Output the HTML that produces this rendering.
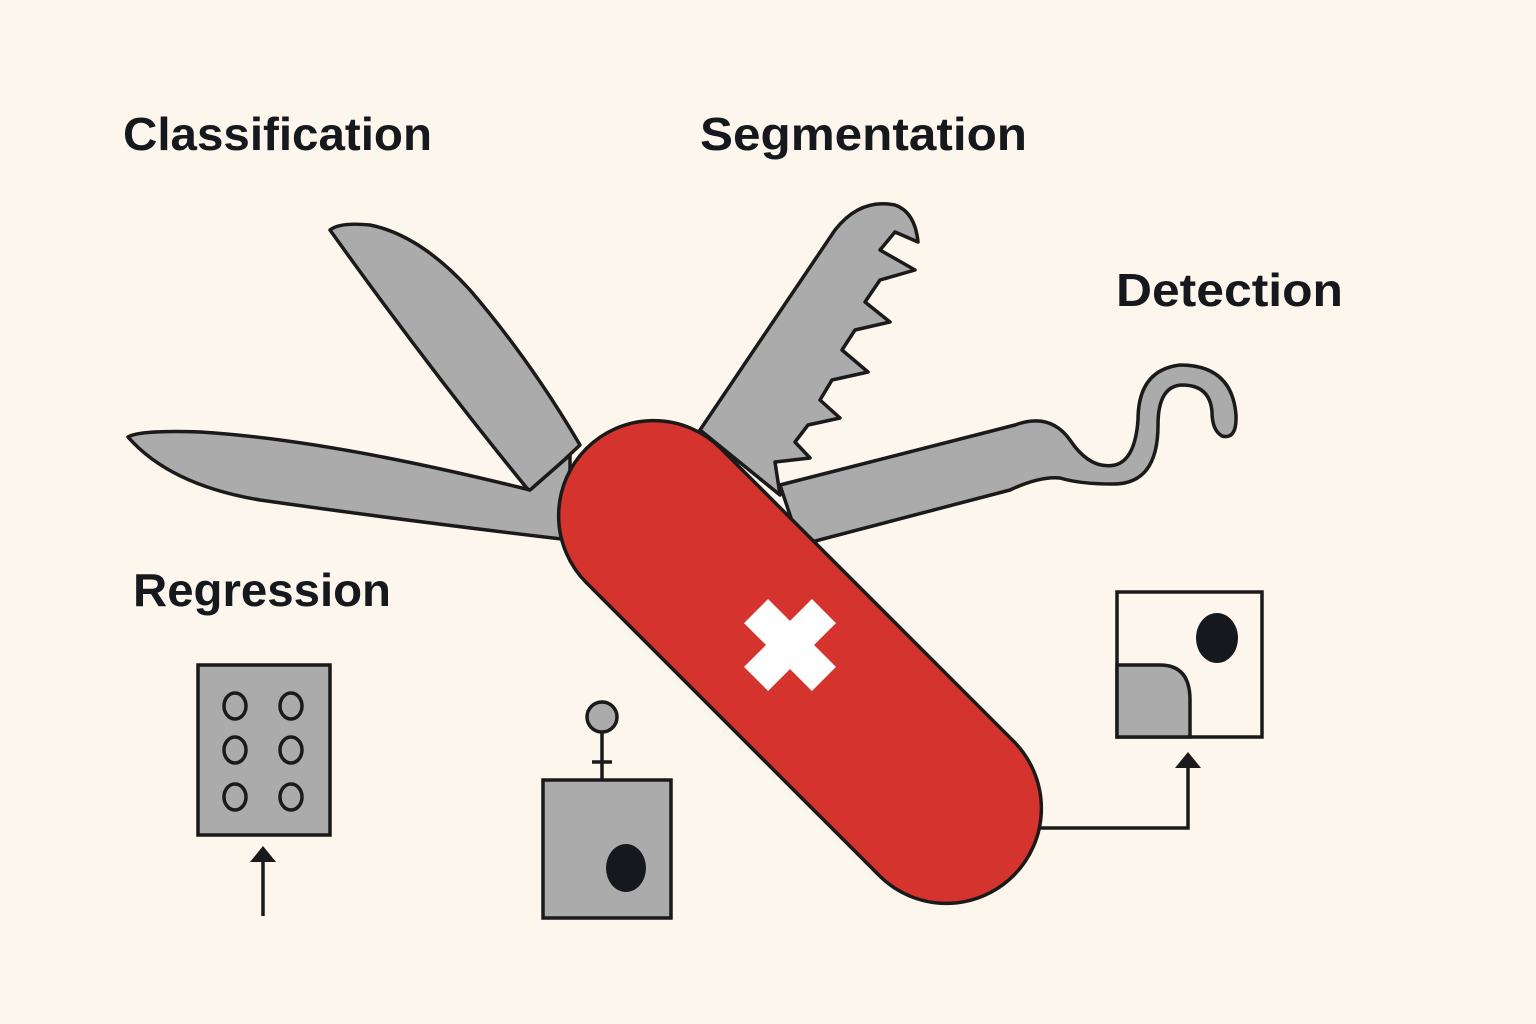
<!DOCTYPE html>
<html><head><meta charset="utf-8"><style>
html,body{margin:0;padding:0;background:#fdf6ec;}
svg{display:block}
text{font-family:"Liberation Sans",sans-serif;font-weight:bold;font-size:46px;fill:#15181c}
</style></head><body>
<svg width="1536" height="1024" viewBox="0 0 1536 1024" xmlns="http://www.w3.org/2000/svg">
<rect width="1536" height="1024" fill="#fdf6ec"/>
<text x="123" y="150" textLength="309" lengthAdjust="spacingAndGlyphs">Classification</text>
<text x="700" y="150" textLength="327" lengthAdjust="spacingAndGlyphs">Segmentation</text>
<text x="1116" y="306" textLength="227" lengthAdjust="spacingAndGlyphs">Detection</text>
<text x="133" y="606" textLength="258" lengthAdjust="spacingAndGlyphs">Regression</text>
<g stroke="#1a1a1a" stroke-width="3.5" stroke-linejoin="round" fill="#ababab">
<path d="M330,230 Q340,222 370,225 Q420,235 470,290 Q530,360 580,445 L530,492 Q430,370 330,230 Z"/>
<path d="M128,437 Q140,430 200,432 Q330,440 530,490 L570,455 L570,540 Q400,520 260,500 Q170,485 128,437 Z"/>
<path d="M700,430 L835,230 Q860,198 895,205 Q915,212 918,242 L895,232 L880,250 L915,270 L880,280 L865,302 L890,322 L855,330 L842,350 L868,372 L832,380 L820,400 L840,418 L808,425 L795,442 L810,458 L775,462 L780,495 Z"/>
<path d="M780,485 L1015,425 Q1050,412 1070,440 Q1090,470 1115,465 Q1135,460 1138,420 Q1138,370 1180,365 Q1232,365 1236,415 Q1237,440 1222,436 Q1212,430 1212,412 Q1210,385 1182,385 Q1158,386 1158,425 Q1158,485 1112,484 Q1080,484 1060,478 Q1040,476 1010,490 L800,545 Z"/>
</g>
<rect x="498" y="567" width="604" height="190" rx="95" transform="rotate(45 800 662)" fill="#d4342d" stroke="#1a1a1a" stroke-width="3.5"/>
<g transform="rotate(45 790 645)" fill="#fff">
<rect x="773" y="597" width="34" height="96"/>
<rect x="742" y="628" width="96" height="34"/>
</g>
<g stroke="#1a1a1a" stroke-width="3.5">
<rect x="198" y="665" width="132" height="170" fill="#ababab"/>
<g fill="none">
<ellipse cx="235" cy="706" rx="11" ry="13"/><ellipse cx="291" cy="706" rx="11" ry="13"/>
<ellipse cx="235" cy="750" rx="11" ry="13"/><ellipse cx="291" cy="750" rx="11" ry="13"/>
<ellipse cx="235" cy="797" rx="11" ry="13"/><ellipse cx="291" cy="797" rx="11" ry="13"/>
</g>
<line x1="263" y1="916" x2="263" y2="858"/>
</g>
<path d="M250,862 L263,846 L276,862 Z" fill="#1a1a1a"/>
<g stroke="#1a1a1a" stroke-width="3.5">
<rect x="543" y="780" width="128" height="138" fill="#ababab"/>
<circle cx="602" cy="717" r="15" fill="#ababab"/>
<line x1="602" y1="732" x2="602" y2="780"/>
<line x1="592" y1="762" x2="612" y2="762"/>
</g>
<ellipse cx="626" cy="868" rx="20" ry="24" fill="#15181c"/>
<g stroke="#1a1a1a" stroke-width="3.5">
<rect x="1117" y="592" width="145" height="145" fill="#fdf6ec"/>
<path d="M1117,665 L1160,665 Q1190,665 1190,700 L1190,737 L1117,737 Z" fill="#ababab"/>
<polyline points="1040,828 1188,828 1188,765" fill="none"/>
</g>
<ellipse cx="1217" cy="638" rx="21" ry="25" fill="#15181c"/>
<path d="M1175,768 L1188,752 L1201,768 Z" fill="#1a1a1a"/>
</svg>
</body></html>
